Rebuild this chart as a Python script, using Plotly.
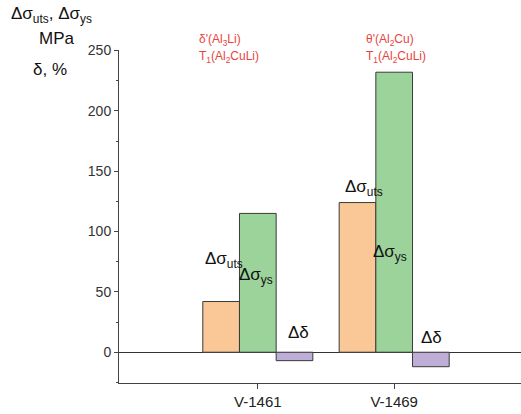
import plotly.graph_objects as go

categories = ["V-1461", "V-1469"]
d_uts = [42, 124]
d_ys = [115, 232]
d_delta = [-7, -12]

series_names = ["Δσuts", "Δσys", "Δδ"]
colors = ["#F9C896", "#9CD39A", "#BEADD6"]

font_family = "Liberation Sans, Arial, sans-serif"

fig = go.Figure()
for name, vals, col in zip(series_names, [d_uts, d_ys, d_delta], colors):
    fig.add_trace(go.Bar(
        x=categories, y=vals, name=name,
        marker=dict(color=col, line=dict(color="#3a3a3a", width=1)),
        showlegend=False,
    ))

# in-plot labels (data coordinates; x as category index)
lab_text = ["Δσ<sub>uts</sub>", "Δσ<sub>ys</sub>", "Δδ",
            "Δσ<sub>uts</sub>", "Δσ<sub>ys</sub>", "Δδ"]
lab_x = [-0.25, -0.013, 0.30, 0.78, 0.97, 1.27]
lab_y = [76, 63, 16, 136, 82, 12.5]
for t, x, y in zip(lab_text, lab_x, lab_y):
    fig.add_annotation(x=x, y=y, xref="x", yref="y", text=t, showarrow=False,
                       xanchor="center", yanchor="middle",
                       font=dict(size=17, color="#111111", family=font_family))

phase_text = ["δ'(Al<sub>3</sub>Li)", "T<sub>1</sub>(Al<sub>2</sub>CuLi)",
              "θ'(Al<sub>2</sub>Cu)", "T<sub>1</sub>(Al<sub>2</sub>CuLi)"]
phase_x = [0.1945, 0.1945, 0.61, 0.61]
phase_y = [1.030, 0.979, 1.030, 0.979]
for t, x, y in zip(phase_text, phase_x, phase_y):
    fig.add_annotation(x=x, y=y, xref="paper", yref="paper", text=t, showarrow=False,
                       xanchor="left", yanchor="middle",
                       font=dict(size=12, color="#E8443C", family=font_family))

# y axis title block (top-left)
title_text = ["Δσ<sub>uts</sub>, Δσ<sub>ys</sub>", "MPa", "δ, %"]
title_x = [-0.167, -0.154, -0.172]
title_y = [1.105, 1.036, 0.94]
for t, x, y in zip(title_text, title_x, title_y):
    fig.add_annotation(x=x, y=y, xref="paper", yref="paper", text=t, showarrow=False,
                       xanchor="center", yanchor="middle",
                       font=dict(size=17, color="#111111", family=font_family))

fig.update_layout(
    width=521, height=414,
    margin=dict(l=119, r=0, t=50, b=31),
    paper_bgcolor="white", plot_bgcolor="white",
    barmode="group", bargap=0.193, bargroupgap=0,
    font=dict(family=font_family, color="#333333"),
)
fig.update_xaxes(
    range=[-1.018, 1.93], showline=True, linecolor="#444444", linewidth=1,
    ticks="outside", ticklen=5, tickcolor="#444444", showgrid=False,
    tickfont=dict(size=15, color="#222222"),
)
fig.update_yaxes(
    range=[-25.5, 250.4], showline=True, linecolor="#444444", linewidth=1,
    ticks="outside", ticklen=4, tickcolor="#444444", showgrid=False,
    tickvals=[0, 50, 100, 150, 200, 250],
    zeroline=True, zerolinecolor="#333333", zerolinewidth=1,
    tickfont=dict(size=14, color="#333333"),
    minor=dict(tickvals=[25, 75, 125, 175, 225, -25], ticks="outside", ticklen=2,
               tickcolor="#444444"),
)

fig.write_html("out.html", config={"displayModeBar": False},
               post_script="document.body.style.margin='0';")
